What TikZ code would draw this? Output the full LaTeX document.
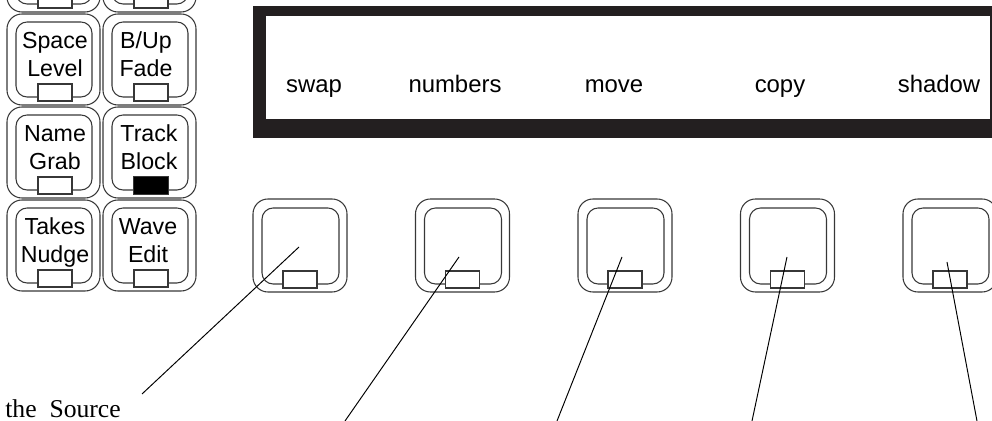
\documentclass[tikz,border=0pt]{standalone}
\usepackage{fontspec}
\setmainfont{Liberation Serif}
\setsansfont{Liberation Sans}
\usetikzlibrary{positioning}
\definecolor{lcdframe}{RGB}{35,31,32}
\definecolor{keygray}{RGB}{55,55,55}
\tikzset{
  keyline/.style={draw=keygray,line width=0.6pt},
  keytab/.style={draw=keygray,fill=white,line width=0.6pt},
  keylabel/.style={font=\sffamily\fontsize{13.2}{15.6}\selectfont,anchor=base,inner sep=0pt},
  lcdlabel/.style={font=\sffamily\fontsize{13.6}{16}\selectfont,anchor=base,inner sep=0pt},
  pointer/.style={draw=black,line width=0.55pt},
}

\begin{document}
\begin{tikzpicture}[x=0.02cm,y=-0.02cm]
  \useasboundingbox (0,0) rectangle (992,421);
  \clip (0,0) rectangle (992,421);

  % side panel keys
  \foreach \kx in {7,103} \foreach \ky in {-79,14,107,200} {
    \draw[keyline,rounded corners=8.5pt] (\kx,\ky) rectangle (\kx+93,\ky+91);
    \draw[keyline,rounded corners=6.3pt] (\kx+9,\ky+8) rectangle (\kx+85,\ky+83);
    \draw[keytab] (\kx+31,\ky+70) rectangle (\kx+65,\ky+87);
  }
  \fill[black] (134,177) rectangle (168,194);
  \foreach \cx/\ky/\ta/\tb in {55/14/Space/Level,146/14/B\slash Up/Fade,
      55/107/Name/Grab,149/107/Track/Block,55/200/Takes/Nudge,148/200/Wave/Edit} {
    \node[keylabel] at (\cx,\ky+35) {\ta};
    \node[keylabel] at (\cx,\ky+63) {\tb};
  }

  % display
  \fill[lcdframe] (253,6) rectangle (992,138);
  \fill[white] (266,16) rectangle (990,119);
  \foreach \name/\lx in {swap/314,numbers/455,move/614,copy/780,shadow/939}
    \node[lcdlabel] (\name) at (\lx,93) {\name};

  % soft keys
  \foreach \i in {0,...,4} {
    \begin{scope}[xshift=\i*162.5*0.02cm]
      \draw[keyline,rounded corners=8.5pt] (253,199) rectangle (347,292);
      \draw[keyline,rounded corners=6.3pt] (262,208) rectangle (339,284);
      \draw[keytab] (283,271) rectangle (317,288);
    \end{scope}
  }

  \node[anchor=base west,inner sep=0pt,font=\fontsize{14.6}{17}\selectfont] (src) at (5,418) {the\ \ Source};

  % pointers
  \coordinate (p1) at (299,247); \coordinate (e1) at (142,394);
  \coordinate (p2) at (459,257); \coordinate (e2) at (345,421);
  \coordinate (p3) at (622,257); \coordinate (e3) at (557,421);
  \coordinate (p4) at (787,257); \coordinate (e4) at (752,421);
  \coordinate (p5) at (947,262); \coordinate (e5) at (977,421);
  \foreach \i in {1,...,5}
    \draw[pointer] (p\i) -- (e\i);
\end{tikzpicture}
\end{document}
